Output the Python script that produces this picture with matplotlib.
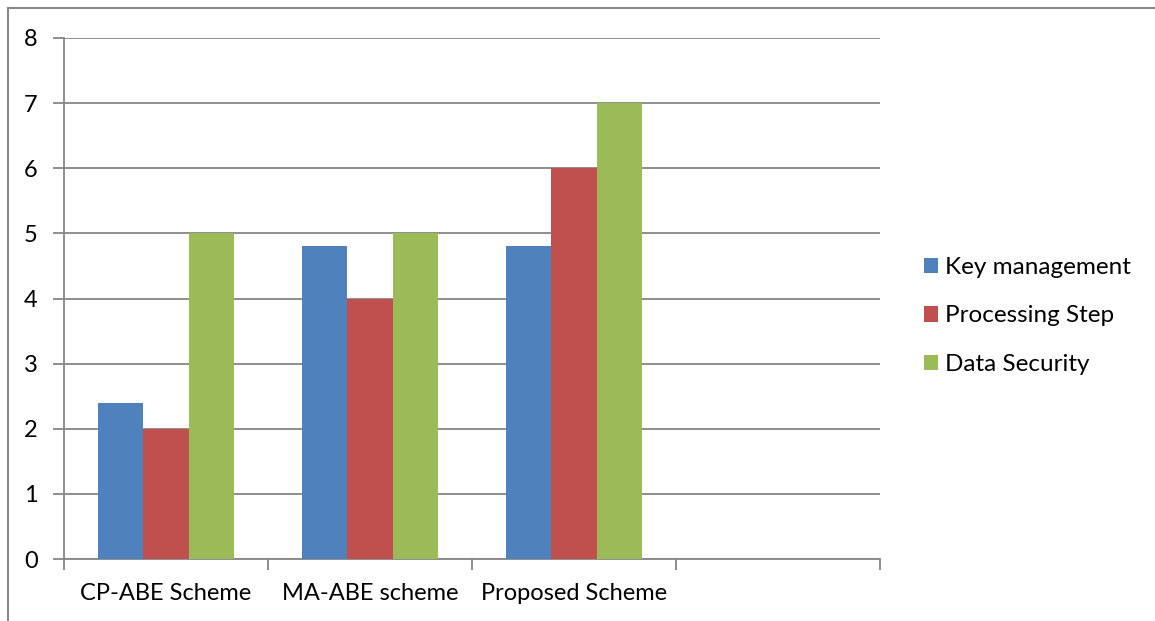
import matplotlib.pyplot as plt
import numpy as np
from matplotlib.lines import Line2D
from matplotlib.patches import Patch

plt.rcParams['font.family'] = ['Lato', 'DejaVu Sans']

CATEGORIES = ['CP-ABE Scheme', 'MA-ABE scheme', 'Proposed Scheme', '']
SERIES = ['Key management', 'Processing Step', 'Data Security']
KEY_MANAGEMENT = [2.4, 4.8, 4.8]
PROCESSING_STEP = [2.0, 4.0, 6.0]
DATA_SECURITY = [5.0, 5.0, 7.0]
COLORS = ['#4F81BD', '#C0504D', '#9BBB59']
GRID = '#868686'

W, H = 1155, 621
fig = plt.figure(figsize=(W / 100, H / 100), dpi=100)
ax = fig.add_axes([64 / W, 1 - 559 / H, (880 - 64) / W, (559 - 38) / H])

# bars: gap width 150% of a bar, three bars per category
bar_w = 1 / 4.5
x = np.arange(len(CATEGORIES)) + 0.5
for i, (vals, color) in enumerate(zip([KEY_MANAGEMENT, PROCESSING_STEP, DATA_SECURITY], COLORS)):
    pos = x[:len(vals)] + (i - 1) * bar_w
    ax.bar(pos, vals, width=bar_w, color=color, zorder=3)

ax.set_xlim(0, len(CATEGORIES))
ax.set_ylim(0, 8)
ax.set_yticks(range(0, 9))
ax.yaxis.grid(True, color=GRID, linewidth=1.3, zorder=0)

# category ticks at boundaries, labels centered
ax.set_xticks(range(0, len(CATEGORIES) + 1))
ax.set_xticklabels([])
ax.set_xticks(x, minor=True)
ax.set_xticklabels(CATEGORIES, minor=True)
ax.tick_params(axis='x', which='major', length=8, width=1.3, color=GRID)
ax.tick_params(axis='x', which='minor', length=0, pad=17, labelsize=17)
ax.tick_params(axis='y', length=8, width=1.3, color=GRID, pad=11, labelsize=17)

for s in ['top', 'right']:
    ax.spines[s].set_visible(False)
for s in ['left', 'bottom']:
    ax.spines[s].set_color(GRID)
    ax.spines[s].set_linewidth(1.3)

handles = [Patch(facecolor=c, edgecolor='none') for c in COLORS]
fig.legend(handles, SERIES, loc='center left', bbox_to_anchor=(902 / W, 1 - 316 / H),
           frameon=False, fontsize=17.5, handlelength=0.6, handleheight=0.6,
           handletextpad=0.28, labelspacing=1.14)

# outer chart frame (top and left edges)
fig.add_artist(Line2D([8 / W, 8 / W], [0, 1 - 8 / H], color='#888888', linewidth=1.5))
fig.add_artist(Line2D([8 / W, 1], [1 - 8 / H, 1 - 8 / H], color='#888888', linewidth=1.5))

fig.savefig('out.png', dpi=100)
